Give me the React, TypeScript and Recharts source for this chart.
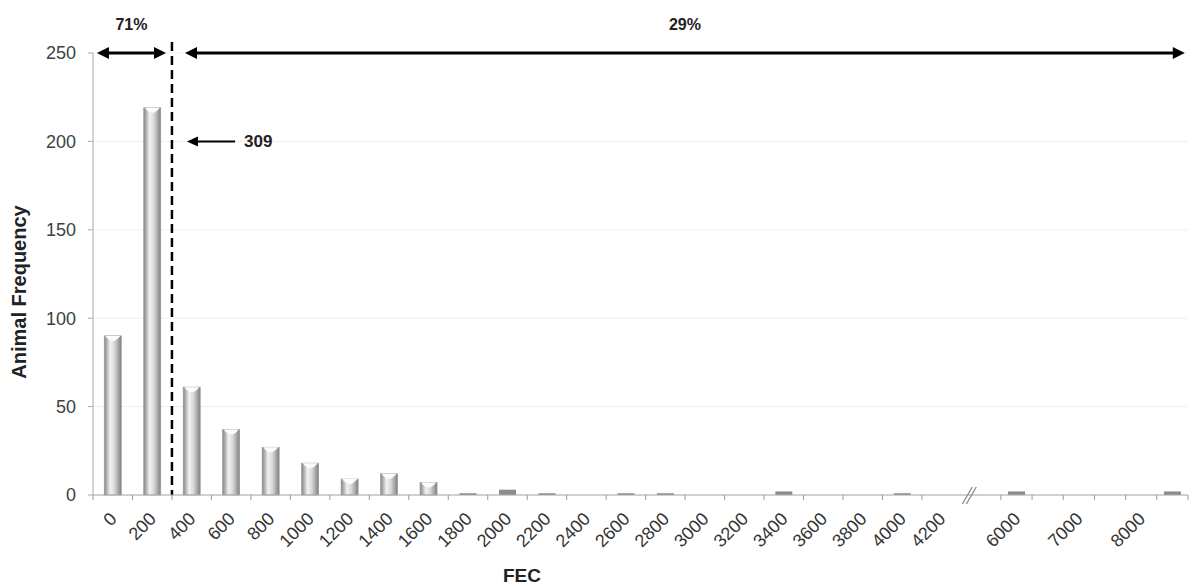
import React from "react";
import { BarChart, Bar, XAxis, YAxis, CartesianGrid, ReferenceLine } from "recharts";

// FEC bins up to 4200 (regular 200-wide classes)
const lowBins = ["0", "200", "400", "600", "800", "1000", "1200", "1400", "1600", "1800", "2000",
  "2200", "2400", "2600", "2800", "3000", "3200", "3400", "3600", "3800", "4000", "4200"];
const lowCounts = [90, 219, 61, 37, 27, 18, 9, 12, 7, 1, 3, 1, 0, 1, 1, 0, 0, 2, 0, 0, 1, 0];

// bins after the axis break
const highBins = ["6000", "6500", "7000", "7500", "8000", "8500"];
const highLabels = ["6000", "", "7000", "", "8000", ""];
const highCounts = [2, 0, 0, 0, 0, 2];

const yTicks = [0, 50, 100, 150, 200, 250];
const cutLabel = "309";
const belowShare = "71%";
const aboveShare = "29%";

const BREAK_W = 1;
const HIGH_W = 0.79;
const BAR_W = 17;
const FONT = "'Liberation Sans', Arial, sans-serif";

const highStart = lowBins.length + BREAK_W;
const xMax = highStart + highBins.length * HIGH_W;

const data = [
  ...lowBins.map((b, i) => ({ bin: b, label: b, count: lowCounts[i], pos: i + 0.5 })),
  ...highBins.map((b, k) => ({ bin: b, label: highLabels[k], count: highCounts[k], pos: highStart + (k + 0.5) * HIGH_W })),
];

type TickInfo = { kind: "edge" | "label" | "break"; label?: string };
const tickInfo = new Map<number, TickInfo>();
for (let i = 0; i < lowBins.length; i++) tickInfo.set(i, { kind: "edge" });
for (let k = 0; k <= highBins.length; k++) tickInfo.set(highStart + k * HIGH_W, { kind: "edge" });
data.forEach((d) => tickInfo.set(d.pos, { kind: "label", label: d.label }));
const breakPos = lowBins.length + BREAK_W * 0.2;
tickInfo.set(breakPos, { kind: "break" });
const xTicks = Array.from(tickInfo.keys()).sort((a, b) => a - b);

const AxisTick = (props: any) => {
  const { x, y, payload } = props;
  const info = tickInfo.get(payload.value);
  if (!info) return null;
  const axisY = y - 10;
  if (info.kind === "edge") {
    return <line x1={x} x2={x} y1={axisY} y2={axisY + 5} stroke="#999" />;
  }
  if (info.kind === "break") {
    return (
      <g stroke="#888" strokeWidth={1.3}>
        <line x1={x - 7} y1={axisY + 9} x2={x + 3} y2={axisY - 8} />
        <line x1={x - 3} y1={axisY + 9} x2={x + 7} y2={axisY - 8} />
      </g>
    );
  }
  if (!info.label) return null;
  return (
    <text x={x + 5} y={y + 15} textAnchor="end" fontSize={18} fill="#333" fontFamily={FONT}
      transform={`rotate(-45 ${x + 5} ${y + 15})`}>
      {info.label}
    </text>
  );
};

const CylinderBar = (props: any) => {
  const { x, y, width, height } = props;
  if (!height || height <= 0) return null;
  const left = x + width / 2 - BAR_W / 2;
  if (height < 6) {
    return <rect x={left} y={y} width={BAR_W} height={Math.max(height, 1.5)} fill="#8c8c8c" />;
  }
  return (
    <g>
      <rect x={left} y={y} width={BAR_W} height={height} fill="url(#cyl)" stroke="#999" strokeWidth={0.7} />
      <path d={`M${left + 1},${y} Q${left + BAR_W / 2},${y + 10} ${left + BAR_W - 1},${y} Z`} fill="#fcfcfc" />
    </g>
  );
};

const head = (tx: number, ty: number, dir: number) =>
  `M${tx},${ty} L${tx - dir * 12},${ty - 6} L${tx - dir * 12},${ty + 6} Z`;

const DoubleArrow = (text: string) => (p: any) => {
  const x1 = Math.min(p.x1, p.x2);
  const x2 = Math.max(p.x1, p.x2);
  const y = p.y1;
  return (
    <g>
      <line x1={x1 + 8} x2={x2 - 8} y1={y} y2={y} stroke="#000" strokeWidth={3} />
      <path d={head(x1, y, -1)} fill="#000" />
      <path d={head(x2, y, 1)} fill="#000" />
      <text x={(x1 + x2) / 2} y={y - 23} textAnchor="middle" fontSize={16} fontWeight="bold"
        fill="#222" fontFamily={FONT}>{text}</text>
    </g>
  );
};

const CutArrow = (p: any) => {
  const x1 = Math.min(p.x1, p.x2);
  const x2 = Math.max(p.x1, p.x2);
  const y = p.y1;
  return (
    <g>
      <line x1={x1 + 8} x2={x2} y1={y} y2={y} stroke="#000" strokeWidth={2} />
      <path d={`M${x1},${y} L${x1 + 11},${y - 5} L${x1 + 11},${y + 5} Z`} fill="#000" />
      <text x={x2 + 9} y={y + 6} fontSize={17} fontWeight="bold" fill="#222" fontFamily={FONT}>{cutLabel}</text>
    </g>
  );
};

const CutLine = (p: any) => {
  const top = Math.min(p.y1, p.y2);
  const bottom = Math.max(p.y1, p.y2);
  return <line x1={p.x1} x2={p.x2} y1={top - 11} y2={bottom} stroke="#000" strokeWidth={2.5} strokeDasharray="9 5" />;
};

export default function App() {
  return (
    <div style={{ position: "absolute", left: 0, top: 0, background: "#fff" }}>
      <BarChart width={1190} height={587} data={data} margin={{ top: 53, right: 2, left: 0, bottom: 0 }}>
        <defs>
          <linearGradient id="cyl" x1="0" y1="0" x2="1" y2="0">
            <stop offset="0%" stopColor="#858585" />
            <stop offset="35%" stopColor="#f2f2f2" />
            <stop offset="60%" stopColor="#d8d8d8" />
            <stop offset="100%" stopColor="#808080" />
          </linearGradient>
        </defs>
        <CartesianGrid vertical={false} stroke="#efefef" />
        <XAxis
          dataKey="pos"
          type="number"
          domain={[0, xMax]}
          ticks={xTicks}
          interval={0}
          tickLine={false}
          tickSize={6}
          tickMargin={4}
          axisLine={{ stroke: "#aaa" }}
          tick={<AxisTick />}
          height={92}
          label={{
            content: (lp: any) => (
              <text x={lp.viewBox.x + 429} y={lp.viewBox.y + 87} textAnchor="middle" fontSize={19}
                fontWeight="bold" fill="#222" fontFamily={FONT}>FEC</text>
            ),
          }}
        />
        <YAxis
          domain={[0, 250]}
          ticks={yTicks}
          interval={0}
          width={93}
          tickSize={5}
          tickMargin={12}
          axisLine={{ stroke: "#aaa" }}
          tickLine={{ stroke: "#aaa" }}
          tick={{ fontSize: 18, fill: "#404040", fontFamily: FONT }}
          label={{
            content: () => (
              <text x={26} y={292} textAnchor="middle" fontSize={20} fontWeight="bold" fill="#222"
                fontFamily={FONT} transform="rotate(-90 26 292)">Animal Frequency</text>
            ),
          }}
        />
        <Bar dataKey="count" isAnimationActive={false} shape={<CylinderBar />} />
        <ReferenceLine x={2} shape={CutLine} />
        <ReferenceLine segment={[{ x: 0.1, y: 250 }, { x: 1.85, y: 250 }]} shape={DoubleArrow(belowShare)} />
        <ReferenceLine segment={[{ x: 2.33, y: 250 }, { x: xMax - 0.08, y: 250 }]} shape={DoubleArrow(aboveShare)} />
        <ReferenceLine segment={[{ x: 2.38, y: 200 }, { x: 3.6, y: 200 }]} shape={CutArrow} />
      </BarChart>
    </div>
  );
}
